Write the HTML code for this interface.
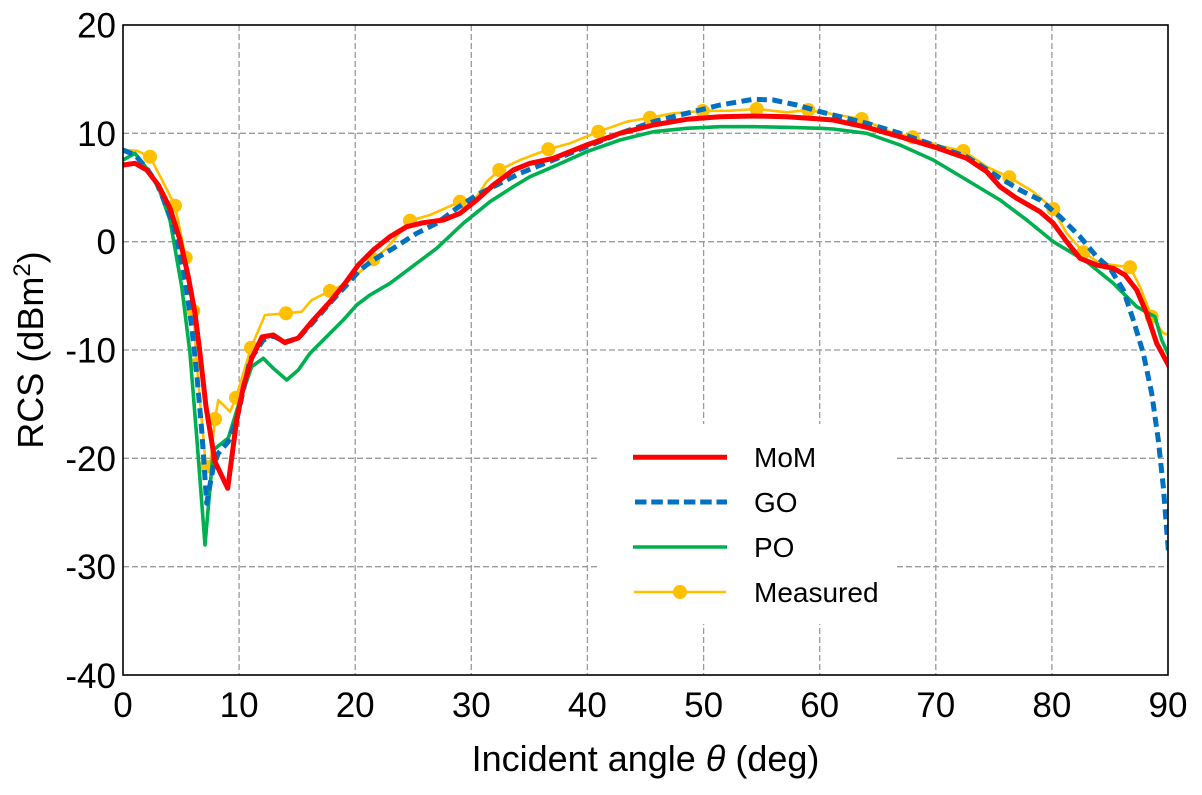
<!DOCTYPE html>
<html>
<head>
<meta charset="utf-8">
<style>
  html, body { margin: 0; padding: 0; background: #ffffff; }
  svg { display: block; }
  text { font-family: "Liberation Sans", Arial, sans-serif; fill: #000; }
</style>
</head>
<body>
<svg width="1202" height="795" viewBox="0 0 1202 795" xmlns="http://www.w3.org/2000/svg">
  <defs>
    <clipPath id="plot">
      <rect x="123" y="25" width="1045" height="650"/>
    </clipPath>
  </defs>
  <rect x="0" y="0" width="1202" height="795" fill="#ffffff"/>

  <!-- grid -->
  <g stroke="#9a9a9a" stroke-width="1.3" stroke-dasharray="6 3" fill="none">
    <line x1="239.1" y1="25" x2="239.1" y2="675"/>
    <line x1="355.2" y1="25" x2="355.2" y2="675"/>
    <line x1="471.3" y1="25" x2="471.3" y2="675"/>
    <line x1="587.4" y1="25" x2="587.4" y2="675"/>
    <line x1="703.6" y1="25" x2="703.6" y2="675"/>
    <line x1="819.7" y1="25" x2="819.7" y2="675"/>
    <line x1="935.8" y1="25" x2="935.8" y2="675"/>
    <line x1="1051.9" y1="25" x2="1051.9" y2="675"/>
    <line x1="123" y1="133.3" x2="1168" y2="133.3"/>
    <line x1="123" y1="241.7" x2="1168" y2="241.7"/>
    <line x1="123" y1="350" x2="1168" y2="350"/>
    <line x1="123" y1="458.3" x2="1168" y2="458.3"/>
    <line x1="123" y1="566.7" x2="1168" y2="566.7"/>
  </g>

  <g clip-path="url(#plot)" fill="none" stroke-linejoin="round" stroke-linecap="butt">
    <!-- Measured -->
    <polyline stroke="#FFC000" stroke-width="2.6" points="123,150 136.7,150.7 150,156.7 162,180 175,205.7 185.7,257.7 193.3,311 196.7,364.3 201.7,420 206,466.7 210,466 215,419 218.3,400 230,411.7 236,397.7 251,347.7 265,315 286,313.3 301.7,311.7 311.7,300 330,291 343,285 356.7,275 373.3,259.3 386.7,248.3 410,220.7 430,215 460,201.7 476.7,196.7 486.7,181.7 499.3,170 520,160 548.3,149.3 570,143.3 598.3,131.7 626.7,121.7 650,117.7 673.3,113.3 702.7,111 730,110.7 756.7,109 786.7,112.3 808.3,110 861.7,119 890,131.7 912.7,137.3 943.3,146.7 963.3,151 986.7,166.7 1009.3,177.3 1033.3,191.7 1052.3,208.3 1066.7,233.3 1083.3,252.3 1100,263.3 1130,267.3 1140,286.7 1151.7,316.7 1163.3,333.3 1170,335"/>
    <g fill="#FFC000" stroke="none">
      <circle cx="150" cy="156.7" r="7"/>
      <circle cx="175" cy="205.7" r="7"/>
      <circle cx="185.7" cy="257.7" r="7"/>
      <circle cx="193.3" cy="311" r="7"/>
      <circle cx="196.7" cy="364.3" r="7"/>
      <circle cx="206" cy="466.7" r="7"/>
      <circle cx="215" cy="419" r="7"/>
      <circle cx="236" cy="397.7" r="7"/>
      <circle cx="251" cy="347.7" r="7"/>
      <circle cx="286" cy="313.3" r="7"/>
      <circle cx="330" cy="291" r="7"/>
      <circle cx="373.3" cy="259.3" r="7"/>
      <circle cx="410" cy="220.7" r="7"/>
      <circle cx="460" cy="201.7" r="7"/>
      <circle cx="499.3" cy="170" r="7"/>
      <circle cx="548.3" cy="149.3" r="7"/>
      <circle cx="598.3" cy="131.7" r="7"/>
      <circle cx="650" cy="117.7" r="7"/>
      <circle cx="702.7" cy="111" r="7"/>
      <circle cx="756.7" cy="109" r="7"/>
      <circle cx="808.3" cy="110" r="7"/>
      <circle cx="861.7" cy="119" r="7"/>
      <circle cx="912.7" cy="137.3" r="7"/>
      <circle cx="963.3" cy="151" r="7"/>
      <circle cx="1009.3" cy="177.3" r="7"/>
      <circle cx="1053.3" cy="209" r="7"/>
      <circle cx="1083.3" cy="252.3" r="7"/>
      <circle cx="1130" cy="267.3" r="7"/>
      <circle cx="1151.7" cy="316.7" r="7"/>
    </g>

    <!-- PO -->
    <polyline stroke="#00B050" stroke-width="3.6" points="123,160 135,153.3 146.7,168.3 158.3,186.7 170,220 181.7,286.7 190,353.3 196.7,436.7 205,545 213.3,450 228.3,438 240,400 251.7,366.7 263.3,358.3 273.3,368.3 286.7,380 298.3,370 310,353.3 330,333.3 343.3,320 356.7,305 370,295 390,283.3 410,268.3 436.7,248.3 463.3,223.3 490,201.7 513.3,186.7 530,176.7 553.3,166.7 586.7,151.7 620,140 653.3,131.7 686.7,128.3 720,126.7 753.3,126.7 786.7,127.3 820,128.3 833.3,129 866.7,133.3 900,145 933.3,160 966.7,180 1000,200 1026.7,220 1053.3,241.7 1086.7,261.7 1113.3,283.3 1136.7,306.7 1155,316.7 1161.7,340 1170,358"/>

    <!-- GO -->
    <polyline stroke="#0070C0" stroke-width="5" stroke-dasharray="10 5.5" points="123,150 135,155 146.7,168.3 156.7,183.3 166.7,206.7 176.7,236.7 185,280 191.7,326.7 196.7,373.3 201.7,430 206.7,503.3 213.3,466.7 218.3,453.3 228.3,441.7 236.7,420 250,360 263.3,340 273.3,336 285,342 298.3,338 313.3,322 330,303 345,286.7 360,270 373.3,260 393.3,248.3 416.7,233.3 436.7,223.3 456.7,208.3 476.7,195 496.7,185 520,173.3 553.3,160 586.7,146.7 620,133.3 653.3,121.7 686.7,113.3 720,105 753.3,99.3 773.3,100 796.7,105 820,111.7 833.3,115 866.7,123.3 900,133.3 933.3,145 966.7,156.7 1000,178 1020,190 1040,200 1060,216.7 1080,236.7 1096.7,256.7 1110,268.3 1123.3,290 1133.3,320 1143.3,353.3 1151.7,393.3 1158.3,440 1163.3,486.7 1166.7,530 1168.5,552"/>

    <!-- MoM -->
    <polyline stroke="#FF0000" stroke-width="5" points="123,165 135,163.3 146.7,170 158.3,185 170,208.3 180,240 188.3,276.7 195,313.3 200,353.3 206,406.7 215,461.7 227.7,488.3 236.7,420 243.3,386.7 251.7,358.3 262,337 273.3,335 285,342.7 298.3,338 313.3,320 330,301.7 345,283.3 358.3,265 373.3,250 390,236.7 406.7,226.7 423.3,222.7 443.3,220 460,213.3 476.7,200 493.3,185 513.3,170 530,163.3 553.3,158.3 586.7,145 620,133.3 653.3,125 686.7,119.3 720,116.7 753.3,116 786.7,116.7 820,119 833.3,120 866.7,127.3 900,136.7 933.3,146.7 966.7,158.3 986.7,171.7 1000,186.7 1016.7,198.3 1040,211.7 1053.3,223.3 1066.7,241.7 1080,258.3 1096.7,265 1113.3,268.3 1125,275 1136.7,290 1146.7,313.3 1156.7,343.3 1170,368"/>
  </g>

  <!-- legend -->
  <rect x="600" y="424" width="295" height="200" fill="#ffffff"/>
  <line x1="633" y1="457.3" x2="727" y2="457.3" stroke="#FF0000" stroke-width="5"/>
  <line x1="635" y1="502" x2="727" y2="502" stroke="#0070C0" stroke-width="5" stroke-dasharray="11.5 4.8"/>
  <line x1="633" y1="547" x2="727" y2="547" stroke="#00B050" stroke-width="3.6"/>
  <line x1="634" y1="592" x2="726" y2="592" stroke="#FFC000" stroke-width="2.6"/>
  <circle cx="680" cy="592" r="7" fill="#FFC000"/>
  <g font-size="28">
    <text x="754" y="467">MoM</text>
    <text x="754" y="512">GO</text>
    <text x="754" y="557">PO</text>
    <text x="754" y="602">Measured</text>
  </g>

  <!-- frame -->
  <rect x="123" y="25" width="1045" height="650" fill="none" stroke="#000" stroke-width="1.6"/>

  <!-- y tick labels -->
  <g font-size="35" text-anchor="end">
    <text x="116" y="37.5">20</text>
    <text x="116" y="145.8">10</text>
    <text x="116" y="254.2">0</text>
    <text x="116" y="362.5">-10</text>
    <text x="116" y="470.8">-20</text>
    <text x="116" y="579.2">-30</text>
    <text x="116" y="688">-40</text>
  </g>

  <!-- x tick labels -->
  <g font-size="35" text-anchor="middle">
    <text x="123" y="717">0</text>
    <text x="239.1" y="717">10</text>
    <text x="355.2" y="717">20</text>
    <text x="471.3" y="717">30</text>
    <text x="587.4" y="717">40</text>
    <text x="703.6" y="717">50</text>
    <text x="819.7" y="717">60</text>
    <text x="935.8" y="717">70</text>
    <text x="1051.9" y="717">80</text>
    <text x="1168" y="717">90</text>
  </g>

  <!-- axis labels -->
  <text x="645.5" y="771" font-size="36" text-anchor="middle">Incident angle <tspan font-style="italic">θ</tspan> (deg)</text>
  <text transform="translate(43,350) rotate(-90)" font-size="36" text-anchor="middle">RCS (dBm<tspan font-size="24" dy="-13">2</tspan><tspan dy="13">)</tspan></text>
</svg>
</body>
</html>
